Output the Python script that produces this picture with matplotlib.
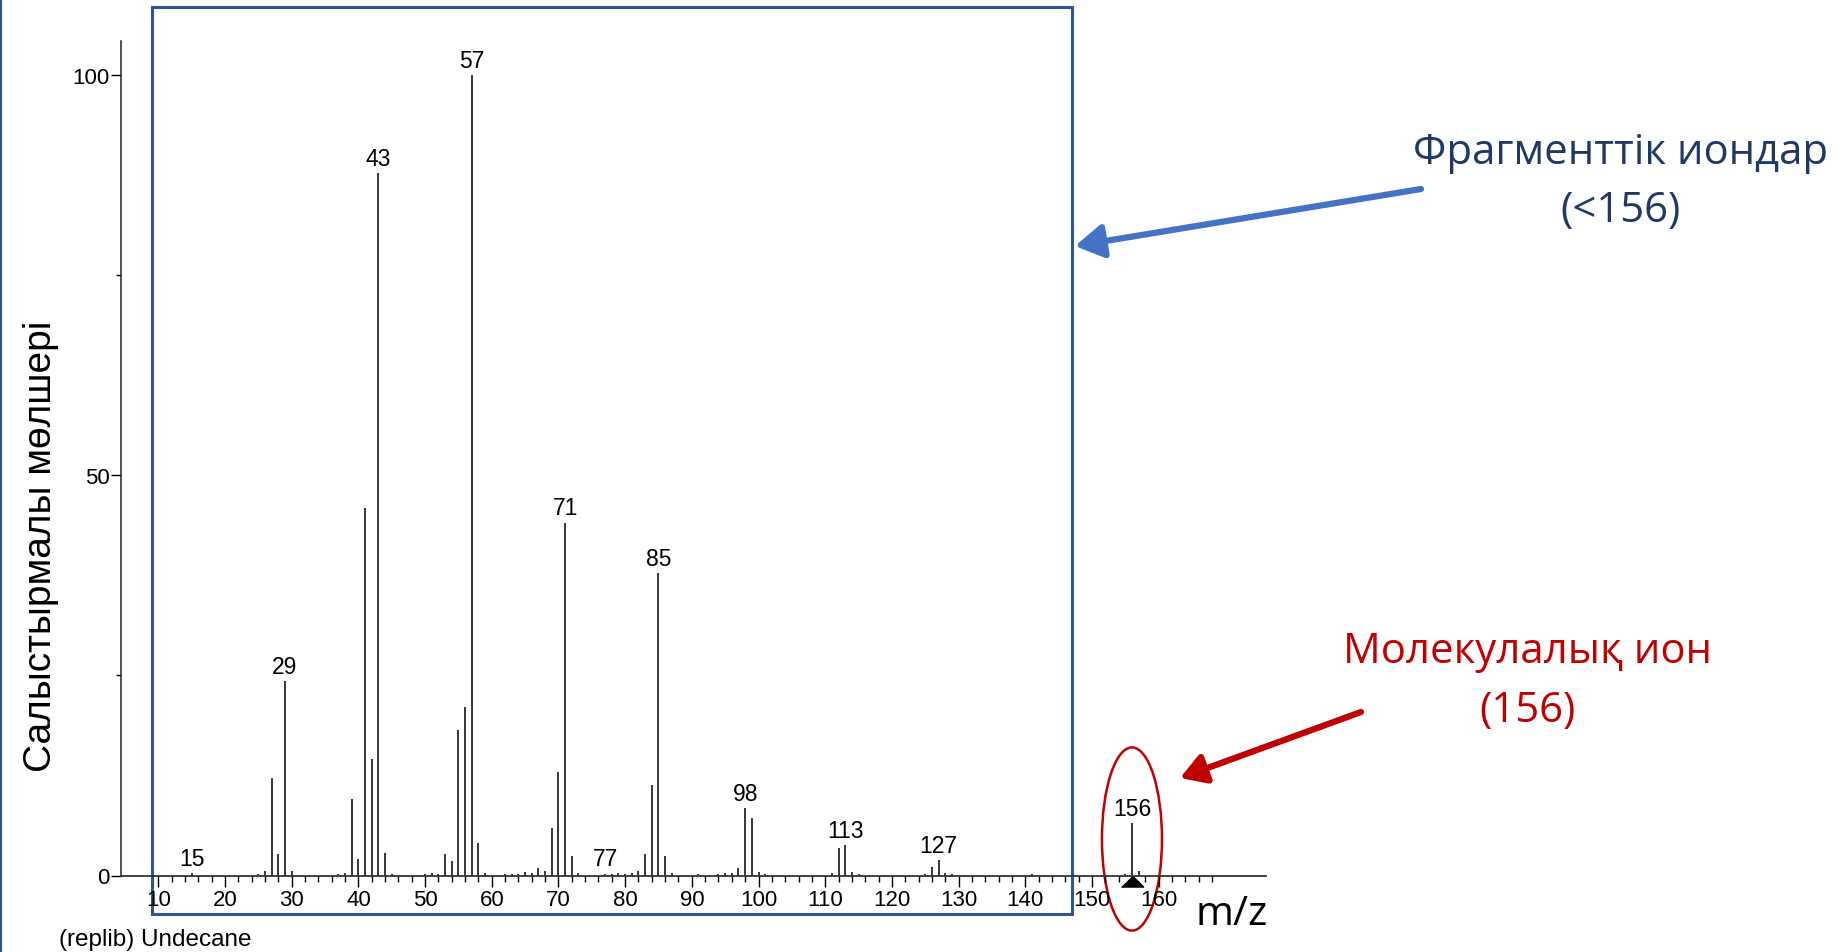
import matplotlib
matplotlib.use("Agg")
import matplotlib.pyplot as plt
from matplotlib.patches import Rectangle, Ellipse
from matplotlib.ticker import FixedLocator

# EI mass spectrum of undecane (replib), relative abundance in %
mz = [15, 25, 26, 27, 28, 29, 30, 37, 38, 39, 40, 41, 42, 43, 44, 45,
      50, 51, 52, 53, 54, 55, 56, 57, 58, 59,
      62, 63, 64, 65, 66, 67, 68, 69, 70, 71, 72, 73,
      77, 78, 79, 80, 81, 82, 83, 84, 85, 86, 87,
      91, 94, 95, 96, 97, 98, 99, 100, 101,
      111, 112, 113, 114, 115, 125, 126, 127, 128, 129,
      141, 155, 156, 157]
intensity = [0.3, 0.2, 0.5, 12.2, 2.7, 24.3, 0.5, 0.2, 0.3, 9.6, 2.0, 45.9, 14.5, 87.8, 2.8, 0.2,
             0.2, 0.3, 0.2, 2.7, 1.8, 18.2, 21.1, 100.0, 4.1, 0.3,
             0.2, 0.2, 0.2, 0.4, 0.3, 0.9, 0.6, 5.9, 12.9, 44.1, 2.4, 0.3,
             0.2, 0.2, 0.3, 0.2, 0.3, 0.6, 2.7, 11.3, 37.8, 2.4, 0.3,
             0.2, 0.2, 0.3, 0.3, 0.9, 8.4, 7.2, 0.4, 0.2,
             0.3, 3.4, 3.8, 0.4, 0.2, 0.2, 1.1, 1.9, 0.3, 0.2,
             0.2, 0.2, 6.5, 0.6]
labelled = [15, 29, 43, 57, 71, 77, 85, 98, 113, 127, 156]
molecular_ion = 156
fragment_range = (9, 147)

x_ticks = list(range(10, 161, 10))
y_ticks = [0, 50, 100]

W, H = 1842, 953
fig = plt.figure(figsize=(W / 100, H / 100), dpi=100)


def px(x, y):
    return x / W, 1 - y / H


ax = fig.add_axes([120.7 / W, (H - 876.5) / H, (1266 - 120.7) / W, (876.5 - 42) / H])
ax.set_xlim(4.36, 176.1)
ax.set_ylim(0, 104.3)

chart_font = "Liberation Sans"
note_font = "Open Sans"

ax.vlines(mz, 0, intensity, color="black", lw=1.1)
lookup = dict(zip(mz, intensity))
for m in labelled:
    ax.annotate(str(m), (m, lookup[m]), xytext=(0, 2.5), textcoords="offset points",
                ha="center", va="bottom", fontsize=16.5, family=chart_font)

# molecular ion marker under the axis
ax.plot([molecular_ion], [-0.7], marker=[(-1, -0.5), (1, -0.5), (0, 0.5)],
        markersize=16, color="black", clip_on=False)

for s in ["top", "right"]:
    ax.spines[s].set_visible(False)
ax.spines["bottom"].set_color("#333333")
ax.spines["left"].set_color("#222222")
ax.spines["bottom"].set_linewidth(1.3)
ax.spines["left"].set_linewidth(1.1)

ax.xaxis.set_major_locator(FixedLocator(x_ticks))
ax.xaxis.set_minor_locator(FixedLocator([v for v in range(12, 171, 2) if v % 10]))
ax.yaxis.set_major_locator(FixedLocator(y_ticks))
ax.yaxis.set_minor_locator(FixedLocator([25, 75]))
ax.tick_params(axis="x", which="major", length=8, width=1, pad=2, labelsize=16)
ax.tick_params(axis="x", which="minor", length=4.3, width=1)
ax.tick_params(axis="y", which="major", length=7, width=1, pad=1, labelsize=16)
ax.tick_params(axis="y", which="minor", length=3.6, width=1)
for lab in ax.get_xticklabels() + ax.get_yticklabels():
    lab.set_family(chart_font)

# blue box around fragment ions
ax.add_patch(Rectangle((fragment_range[0], -4.8), fragment_range[1] - fragment_range[0], 113.4,
                       fill=False, ec="#2F5597", lw=2.2, clip_on=False))
# red ellipse around the molecular ion
ax.add_patch(Ellipse((molecular_ion, 4.56), 9, 22.9, fill=False, ec="#C00000",
                     lw=1.8, clip_on=False))

fig.text(*px(41, 546), "Салыстырмалы мөлшері", rotation=90, ha="center", va="center",
         fontsize=28, family=chart_font)
fig.text(*px(1232, 915), "m/z", ha="center", va="center", fontsize=29.5, family=note_font)
fig.text(*px(59, 940), "(replib) Undecane", ha="left", va="center", fontsize=17.5,
         family=chart_font)

fig.text(*px(1621, 153), "Фрагменттік иондар", ha="center", va="center", fontsize=30.2,
         color="#1F3864", family=note_font)
fig.text(*px(1621, 211), "(<156)", ha="center", va="center", fontsize=30.2,
         color="#1F3864", family=note_font)
fig.text(*px(1527, 652), "Молекулалық ион", ha="center", va="center", fontsize=30.2,
         color="#C00000", family=note_font)
fig.text(*px(1527, 711), "(156)", ha="center", va="center", fontsize=30.2,
         color="#C00000", family=note_font)

fig.patches.append(plt.Line2D([0.0008, 0.0008], [0, 1], transform=fig.transFigure,
                              color="#2F5597", lw=1.5))

ax.annotate("", xy=(1075, H - 247), xycoords="figure pixels",
            xytext=(1421, H - 190), textcoords="figure pixels",
            arrowprops=dict(arrowstyle="-|>,head_length=0.5,head_width=0.3", lw=4.5,
                            color="#4472C4", mutation_scale=34, shrinkA=0, shrinkB=0))
ax.annotate("", xy=(1180, H - 779), xycoords="figure pixels",
            xytext=(1361, H - 713), textcoords="figure pixels",
            arrowprops=dict(arrowstyle="-|>,head_length=0.5,head_width=0.3", lw=4.5,
                            color="#C00000", mutation_scale=30, shrinkA=0, shrinkB=0))

fig.savefig("out.png", dpi=100)
